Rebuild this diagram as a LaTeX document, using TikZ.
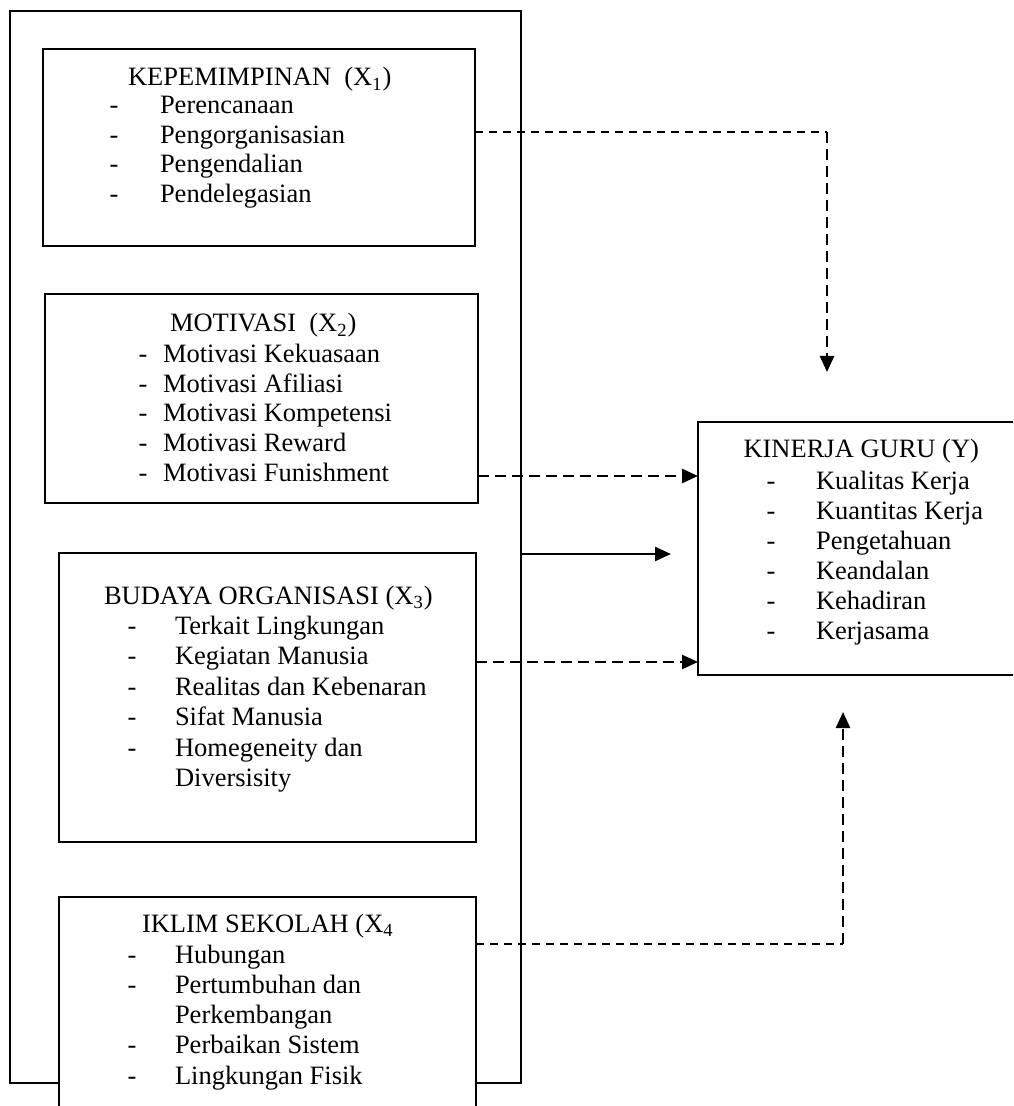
\documentclass[tikz,border=0pt]{standalone}
\usepackage{fontspec}
\setmainfont{Liberation Serif}
\usetikzlibrary{arrows.meta,fit}
\tikzset{
 box/.style={draw, line width=0.8pt, fill=white, inner sep=0pt, outer sep=0pt},
 txt/.style={font=\fontsize{13.25}{15}\selectfont, inner sep=0pt, outer sep=0pt},
 thindash/.style={line width=0.85pt, dash pattern=on 4pt off 3pt},
 thickdash/.style={line width=1.3pt, dash pattern=on 5.5pt off 3pt},
 headtri/.style={-{Triangle[length=8pt,width=7pt]}},
 solidarrow/.style={line width=1.2pt, -{Triangle[length=8pt,width=7pt]}},
}
\newcommand\litem[5]{%
 \node[txt, anchor=base] (#1d) at (#2,#4) {-};
 \node[txt, anchor=base west] (#1) at (#3,#4) {#5};}
\begin{document}
\begin{tikzpicture}[x=0.5pt,y=-0.5pt]
\useasboundingbox (0,0) rectangle (1013,1106);
\clip (0,0) rectangle (1013,1106);
\fill[white] (0,0) rectangle (1013,1106);
% boxes
\node[box, fit={(10,11) (521,1083)}] (outer) {};
\node[box, fit={(43,49) (475,246)}] (x1) {};
\node[box, fit={(45,294) (478,503)}] (x2) {};
\node[box, fit={(59,553) (476,842)}] (x3) {};
\node[box, fit={(59,897) (476,1140)}] (x4) {};
\node[box, fit={(698,422) (1040,675)}] (y) {};
% X1
\node[txt, anchor=base west] (t1) at (128,86) {KEPEMIMPINAN\ \ (X\textsubscript{1})};
\litem{a1}{114}{160}{114}{Perencanaan}
\litem{a2}{114}{160}{144}{Pengorganisasian}
\litem{a3}{114}{160}{173}{Pengendalian}
\litem{a4}{114}{160}{203}{Pendelegasian}
% X2
\node[txt, anchor=base west] (t2) at (170,332) {MOTIVASI\ \ (X\textsubscript{2})};
\litem{b1}{143}{163}{363}{Motivasi Kekuasaan}
\litem{b2}{143}{163}{392.5}{Motivasi Afiliasi}
\litem{b3}{143}{163}{422}{Motivasi Kompetensi}
\litem{b4}{143}{163}{451.5}{Motivasi Reward}
\litem{b5}{143}{163}{481}{Motivasi Funishment}
% X3
\node[txt, anchor=base west] (t3) at (104,604) {BUDAYA ORGANISASI (X\textsubscript{3})};
\litem{c1}{132}{175}{634}{Terkait Lingkungan}
\litem{c2}{132}{175}{664}{Kegiatan Manusia}
\litem{c3}{132}{175}{695}{Realitas dan Kebenaran}
\litem{c4}{132}{175}{725}{Sifat Manusia}
\litem{c5}{132}{175}{756}{Homegeneity dan}
\node[txt, anchor=base west] (c6) at (175,786) {Diversisity};
% X4
\node[txt, anchor=base west] (t4) at (142,932) {IKLIM SEKOLAH (X\textsubscript{4}};
\litem{d1}{132}{175}{963}{Hubungan}
\litem{d2}{132}{175}{993}{Pertumbuhan dan}
\node[txt, anchor=base west] (d3) at (175,1023) {Perkembangan};
\litem{d4}{132}{175}{1053}{Perbaikan Sistem}
\litem{d5}{132}{175}{1084}{Lingkungan Fisik}
% Y
\node[txt, anchor=base west] (ty) at (743.5,457.5) {KINERJA GURU (Y)};
\litem{e1}{771}{816}{489}{Kualitas Kerja}
\litem{e2}{771}{816}{519}{Kuantitas Kerja}
\litem{e3}{771}{816}{549}{Pengetahuan}
\litem{e4}{771}{816}{579}{Keandalan}
\litem{e5}{771}{816}{609}{Kehadiran}
\litem{e6}{771}{816}{639}{Kerjasama}
% connectors
\coordinate (h1) at (0,132);
\coordinate (k1) at (827,132);
\coordinate (p1) at (827,372);
\draw[thindash] (x1.east |- h1) -- (k1);
\draw[thickdash, headtri] (k1) -- (p1);
\coordinate (h2) at (0,476);
\draw[thickdash, headtri] (x2.east |- h2) -- (y.west |- h2);
\coordinate (h0) at (0,554);
\coordinate (p0) at (671,554);
\draw[solidarrow] (outer.east |- h0) -- (p0);
\coordinate (h3) at (0,662);
\draw[thickdash, headtri] (x3.east |- h3) -- (y.west |- h3);
\coordinate (k4) at (843,944);
\coordinate (p4) at (843,712);
\draw[thindash] (x4.east |- k4) -- (k4);
\draw[thickdash, headtri] (k4) -- (p4);
\end{tikzpicture}
\end{document}
